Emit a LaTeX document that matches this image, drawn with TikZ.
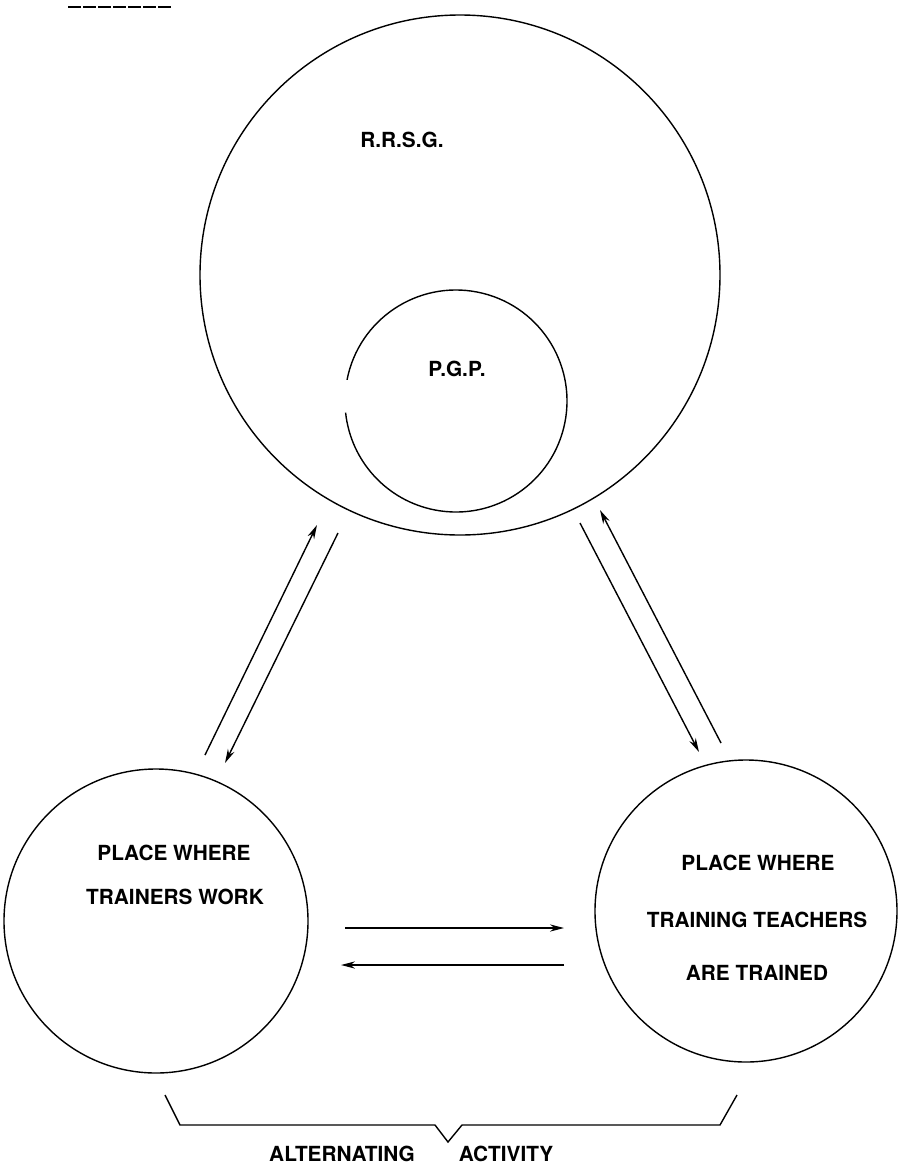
\documentclass[tikz,border=0pt]{standalone}
\usepackage{fontspec}
\setmainfont{TeX Gyre Heros}
\usetikzlibrary{arrows.meta}

\begin{document}
\begin{tikzpicture}[x=0.5pt, y=-0.5pt, line width=0.7pt, >={Stealth[length=7pt, width=3.6pt]},
  lbl/.style={font=\bfseries\fontsize{10.4}{12}\selectfont, inner sep=0pt},
  ring/.style={circle, draw, inner sep=0pt}]
  \useasboundingbox (0,0) rectangle (902,1168);
  \draw[line width=1.1pt, dash pattern=on 6.3pt off 1.2pt] (68,7) -- (172,7);
  % the circles
  \node[ring, minimum size=260pt] (rrsg) at (460,275) {};
  \node[ring, minimum size=152pt] (work) at (156,921) {};
  \node[ring, minimum size=151pt] (train) at (746,911) {};
  \coordinate (pgp) at (456,401);
  \draw (pgp) ++(191:111) arc[start angle=191, end angle=534, radius=111];
  \node[lbl] (trsg) at (402,140) {R.R.S.G.};
  \node[lbl] (tpgp) at (457,369) {P.G.P.};
  \node[lbl] (tw1) at (174,853) {PLACE WHERE}; \node[lbl] (tw2) at (175,897) {TRAINERS WORK};
  \node[lbl] (tt1) at (758,863) {PLACE WHERE}; \node[lbl] (tt2) at (757,920) {TRAINING TEACHERS};
  \node[lbl] (tt3) at (757,973) {ARE TRAINED};
  % connector ends
  \coordinate (l1) at (205,755); \coordinate (l2) at (317,525);
  \coordinate (l3) at (338,533); \coordinate (l4) at (225,763);
  \coordinate (r1) at (580,523); \coordinate (r2) at (699,752);
  \coordinate (r3) at (721,743); \coordinate (r4) at (600,510);
  \coordinate (h1) at (345,928); \coordinate (h2) at (564,928);
  \coordinate (h3) at (564,965); \coordinate (h4) at (341,965);
  \foreach \a/\b in {l1/l2, l3/l4, r1/r2, r3/r4, h1/h2, h3/h4} { \draw[->] (\a) -- (\b); }
  % brace under both places
  \coordinate (b1) at (165,1095); \coordinate (b2) at (737,1095); \coordinate (bv) at (448,1142);
  \draw (b1) -- (180,1125) -- (435,1125) -- (bv) -- (462,1125) -- (720,1125) -- (b2);
  \node[lbl] (alt1) at (342,1154) {ALTERNATING}; \node[lbl] (alt2) at (506,1154) {ACTIVITY};
\end{tikzpicture}
\end{document}
